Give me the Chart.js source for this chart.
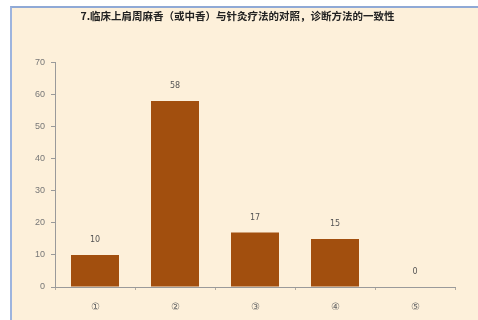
<!DOCTYPE html>
<html>
<head>
<meta charset="utf-8">
<script src="https://cdn.jsdelivr.net/npm/chart.js@4/dist/chart.umd.min.js"></script>
<style>
    body { margin: 0; background: #ffffff; }
    #cadre {
        position: absolute; left: 10px; top: 6px; width: 468px; height: 314px;
        background: #fdf0da;
        border-top: 2px solid #8fa9d6;
        border-left: 2px solid #9db4de;
        box-sizing: border-box;
    }
    #graphe { position: absolute; left: 0; top: 0; }
</style>
</head>
<body>
<div id="cadre"></div>
<canvas id="graphe" width="478" height="320"></canvas>
<script>
//------------------DONNEES-------------------------------
const categories = ['①', '②', '③', '④', '⑤'];
const valeurs = [10, 58, 17, 15, 0];
const ticksY = [0, 10, 20, 30, 40, 50, 60, 70];
const titre = '7.临床上肩周麻香（或中香）与针灸疗法的对照，诊断方法的一致性';

//------------------ETIQUETTES AU DESSUS DES BARRES-------------------------------
const etiquettes = {
    id: 'etiquettes',
    afterDatasetsDraw(chart) {
        const c = chart.ctx;
        const meta = chart.getDatasetMeta(0);
        c.save();
        c.font = '8px "DejaVu Sans"';
        c.fillStyle = '#555555';
        c.textAlign = 'center';
        c.textBaseline = 'bottom';
        meta.data.forEach((bar, i) => {
            c.fillText(String(chart.data.datasets[0].data[i]), bar.x, bar.y - 11);
        });
        c.restore();
    }
};

const ctx = document.getElementById('graphe').getContext('2d');

new Chart(ctx, {
    type: 'bar',
    plugins: [etiquettes],
    data: {
        labels: categories,
        datasets: [{
            data: valeurs,
            backgroundColor: '#a24f0e',
            borderWidth: 0,
            categoryPercentage: 0.6,
            barPercentage: 1
        }]
    },
    options: {
        responsive: false,
        animation: false,
        layout: { padding: { left: 20, right: 23, top: 0, bottom: 5 } },
        plugins: {
            legend: { display: false },
            tooltip: { enabled: false },
            title: {
                display: true,
                text: titre,
                color: '#222222',
                font: { family: '"Noto Sans CJK SC"', size: 10.5, weight: 'bold' },
                padding: { top: 10, bottom: 40 }
            }
        },
        scales: {
            x: {
                afterFit: (scale) => { scale.height = 28; },
                grid: { drawOnChartArea: false, color: '#b0aaa0', tickLength: 3, offset: true },
                border: { color: '#9a9a9a' },
                ticks: { color: '#666666', font: { size: 10 }, padding: 11 }
            },
            y: {
                min: 0,
                max: 70,
                afterFit: (scale) => { scale.width = 35; },
                afterBuildTicks: (scale) => { scale.ticks = ticksY.map(v => ({ value: v })); },
                grid: { drawOnChartArea: false, color: '#9a9a9a', tickLength: 4 },
                border: { color: '#9a9a9a' },
                ticks: { color: '#777777', font: { size: 9 }, padding: 6 }
            }
        }
    }
});
</script>
</body>
</html>
